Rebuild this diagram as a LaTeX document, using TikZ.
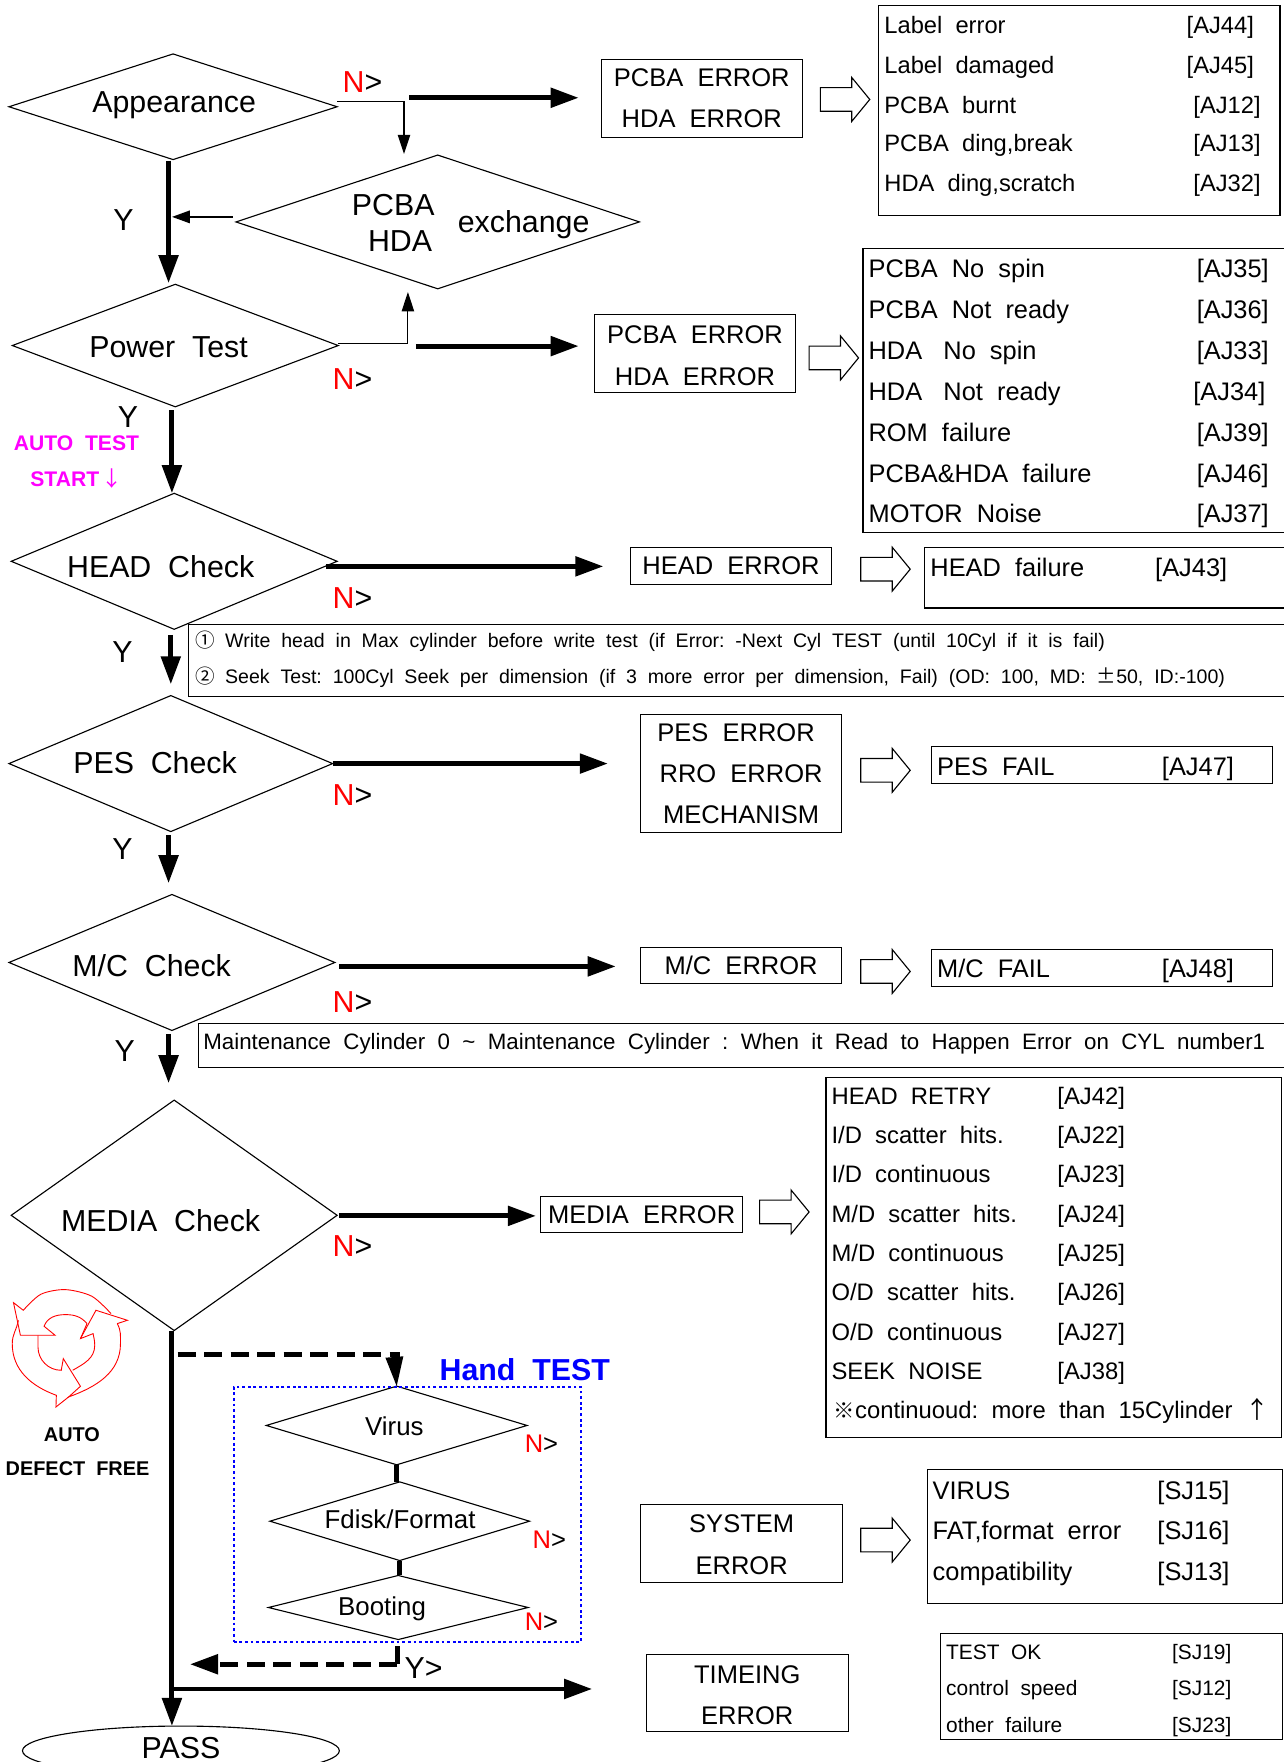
\documentclass[tikz,border=0pt]{standalone}
\usepackage{fontspec}
\setmainfont{Liberation Sans}
\newfontfamily\cjk{Noto Sans CJK KR}
\usetikzlibrary{arrows.meta,shapes.geometric}
\definecolor{mag}{RGB}{255,0,255}
\definecolor{pureblue}{RGB}{0,0,255}
\definecolor{purered}{RGB}{255,0,0}
\tikzset{
  fs/.style={font=\fontsize{#1}{#1}\selectfont,text height={0.72*#1pt},text depth=0pt,inner sep=0pt,outer sep=0pt},
  tx/.style={fs=#1,anchor=center},
  lf/.style={fs=#1,anchor=west},
  dia/.style={draw,diamond,inner sep=0pt,outer sep=0pt,line width=1pt},
  bx/.style={draw,rectangle,line width=1pt,inner sep=0pt,outer sep=0pt,align=center,font=\fontsize{22.7}{36.7}\selectfont},
  thick arr/.style={line width=4.4pt,-{Triangle[length=25pt,width=17pt]}},
  mid arr/.style={line width=2pt,-{Triangle[length=16pt,width=11pt]}},
  thin arr/.style={line width=1pt,-{Triangle[length=17pt,width=11pt]}},
  bar/.style={line width=4.4pt},
  dash bar/.style={line width=4.4pt,dash pattern=on 16pt off 7.6pt},
  hollow/.pic={\draw[line width=1pt,line join=miter] (0,-10.5)--(28,-10.5)--(28,-19.5)--(44,0)--(28,19.5)--(28,10.5)--(0,10.5)--cycle;},
}
\newcommand{\dianode}[6]{\node[dia,minimum width=#4pt,minimum height=#5pt] (#1) at (#2,#3) {};}
\newcommand{\boxnode}[6]{\node[bx,minimum width={(#4-#2)*1pt},minimum height={(#5-#3)*1pt}] (#1) at ({(#2+#4)/2},{(#3+#5)/2}) {#6};}
\newcommand{\lrow}[7]{\node[lf=#7] (#1a) at (#2,#3) {#4}; \node[lf=#7] (#1b) at (#5,#3) {#6};}
\newcommand{\nlab}[4]{\node[lf=#4] (#1) at (#2,#3) {\textcolor{purered}{N}{\fontsize{#4}{#4}\selectfont >}};}
\begin{document}
\begin{tikzpicture}[x=1pt,y=-1pt]
\useasboundingbox (0,0) rectangle (1142,1568);
% diamonds
\dianode{app}{154}{95}{292}{94}{}
\dianode{pcba}{389.5}{197.5}{359}{119}{}
\dianode{pwr}{156}{307.5}{290}{109}{}
\dianode{headc}{155}{499.5}{290}{121}{}
\dianode{pesc}{152}{679.5}{288}{121}{}
\dianode{mcc}{153}{856.5}{290}{121}{}
\dianode{media}{155}{1081.5}{290}{205}{}
\dianode{virus}{353}{1268.5}{232}{70}{}
\dianode{fdisk}{355.7}{1353.7}{231}{70}{}
\dianode{boot}{354.4}{1430.5}{231}{57}{}
\node[draw,ellipse,line width=1pt,minimum width=282pt,minimum height=44pt,inner sep=0pt,outer sep=0pt] (pass) at (161,1558) {};
% diamond labels
\node[tx=27] (tapp) at (155,90) {Appearance};
\node[tx=27] (tpcba) at (350,182) {PCBA};
\node[tx=27] (thda) at (356,214) {HDA};
\node[tx=27] (texch) at (466,197) {exchange};
\node[tx=27] (tpwr) at (150,308) {Power~~Test};
\node[tx=27] (thead) at (143,504) {HEAD~~Check};
\node[tx=27] (tpes) at (138,679) {PES~~Check};
\node[tx=27] (tmc) at (135,859) {M/C~~Check};
\node[tx=27] (tmedia) at (143,1086) {MEDIA~~Check};
\node[tx=23] (tvirus) at (351,1269) {Virus};
\node[tx=23] (tfdisk) at (356,1352) {Fdisk/Format};
\node[tx=23] (tboot) at (340,1429) {Booting};
\node[tx=27] (tpass) at (161,1555) {PASS};
% error boxes
\boxnode{e1}{535}{53}{714}{122}{PCBA~~ERROR\\HDA~~ERROR}
\boxnode{e2}{529}{280}{708}{349}{\rule{0pt}{20pt}PCBA~~ERROR\\HDA~~ERROR}
\boxnode{e3}{561}{487}{740}{520}{HEAD~~ERROR}
\boxnode{e4}{570}{636}{749}{741}{PES~~ERROR\hspace*{9pt}\\RRO~~ERROR\\MECHANISM}
\boxnode{e5}{570}{843}{749}{875}{M/C~~ERROR}
\boxnode{e6}{481}{1065}{661}{1097}{MEDIA~~ERROR}
\boxnode{e7}{570}{1339}{750}{1408}{\rule{0pt}{18pt}SYSTEM\\ERROR}
\boxnode{e8}{575}{1472}{755}{1541}{\rule{0pt}{20pt}TIMEING\\ERROR}
% list boxes
\boxnode{l1}{782}{5}{1139}{192}{}
\boxnode{l2}{768}{221}{1150}{474}{}
\boxnode{l3}{823}{487}{1150}{541}{}
\boxnode{n1}{168}{556}{1150}{620}{}
\boxnode{l4}{829}{664}{1132}{697}{}
\boxnode{l5}{829}{845}{1132}{878}{}
\boxnode{n2}{177}{911}{1150}{950}{}
\boxnode{l6}{735}{959}{1140}{1279}{}
\boxnode{l7}{825}{1308}{1141.5}{1427}{}
\boxnode{l8}{837}{1454}{1141.5}{1548}{}
\node[draw=pureblue,line width=2pt,dash pattern=on 2.5pt off 2.5pt,minimum width=309pt,minimum height=227pt,inner sep=0pt,outer sep=0pt] (hand) at (362.5,1347.5) {};
% list rows
\lrow{ra}{787}{22}{Label~~error}{1056}{[AJ44]}{21.1}
\lrow{rb}{787}{58}{Label~~damaged}{1056}{[AJ45]}{21.1}
\lrow{rc}{787}{93}{PCBA~~burnt}{1062}{[AJ12]}{21.1}
\lrow{rd}{787}{127}{PCBA~~ding,break}{1062}{[AJ13]}{21.1}
\lrow{re}{787}{163}{HDA~~ding,scratch}{1062}{[AJ32]}{21.1}
\lrow{sa}{773}{239}{PCBA~~No~~spin}{1065}{[AJ35]}{22.6}
\lrow{sb}{773}{275}{PCBA~~Not~~ready}{1065}{[AJ36]}{22.6}
\lrow{sc}{773}{312}{HDA~~~No~~spin}{1065}{[AJ33]}{22.6}
\lrow{sd}{773}{348}{HDA~~~Not~~ready}{1062}{[AJ34]}{22.6}
\lrow{se}{773}{385}{ROM~~failure}{1065}{[AJ39]}{22.6}
\lrow{sf}{773}{421}{PCBA\&HDA~~failure}{1065}{[AJ46]}{22.6}
\lrow{sg}{773}{457}{MOTOR~~Noise}{1065}{[AJ37]}{22.6}
\lrow{ta}{828}{505}{HEAD~~failure}{1028}{[AJ43]}{22.6}
\lrow{tb}{834}{682}{PES~~FAIL}{1034}{[AJ47]}{22.6}
\lrow{tc}{834}{862}{M/C~~FAIL}{1034}{[AJ48]}{22.6}
\lrow{ua}{740}{975}{HEAD~~RETRY}{941}{[AJ42]}{21.2}
\lrow{ub}{740}{1010}{I/D~~scatter~~hits.}{941}{[AJ22]}{21.2}
\lrow{uc}{740}{1045}{I/D~~continuous}{941}{[AJ23]}{21.2}
\lrow{ud}{740}{1080}{M/D~~scatter~~hits.}{941}{[AJ24]}{21.2}
\lrow{ue}{740}{1115}{M/D~~continuous}{941}{[AJ25]}{21.2}
\lrow{uf}{740}{1150}{O/D~~scatter~~hits.}{941}{[AJ26]}{21.2}
\lrow{ug}{740}{1185}{O/D~~continuous}{941}{[AJ27]}{21.2}
\lrow{uh}{740}{1220}{SEEK~~NOISE}{941}{[AJ38]}{21.2}
\node[lf=21.2] (ui) at (742,1255) {{\cjk\fontsize{19}{19}\selectfont ※}continuoud:~~more~~than~~15Cylinder~~{\cjk ↑}};
\lrow{va}{830}{1326}{VIRUS}{1030}{[SJ15]}{22.6}
\lrow{vb}{830}{1362}{FAT,format~~error}{1030}{[SJ16]}{22.6}
\lrow{vc}{830}{1398}{compatibility}{1030}{[SJ13]}{22.6}
\lrow{wa}{842}{1470}{TEST~~OK}{1043}{[SJ19]}{18.6}
\lrow{wb}{842}{1502}{control~~speed}{1043}{[SJ12]}{18.6}
\lrow{wc}{842}{1535}{other~~failure}{1043}{[SJ23]}{18.6}
% notes
\node[lf=17.4] (n1a) at (174,570) {{\cjk ①}\hspace{9pt}Write~~head~~in~~Max~~cylinder~~before~~write~~test~~(if~~Error:~~-Next~~Cyl~~TEST~~(until~~10Cyl~~if~~it~~is~~fail)};
\node[lf=17.4] (n1b) at (174,602) {{\cjk ②}\hspace{9pt}Seek~~Test:~~100Cyl~~Seek~~per~~dimension~~(if~~3~~more~~error~~per~~dimension,~~Fail)~~(OD:~~100,~~MD:~~{\cjk ±}50,~~ID:-100)};
\node[lf=19.85] (n2a) at (181,927) {Maintenance~~Cylinder~~0~~\textasciitilde~~Maintenance~~Cylinder~~:~~When~~it~~Read~~to~~Happen~~Error~~on~~CYL~~number1};
% side labels
\nlab{na}{305}{73}{27}
\nlab{nb}{296}{337}{27}
\nlab{nc}{296}{532}{27}
\nlab{nd}{296}{707}{27}
\nlab{ne}{296}{891}{27}
\nlab{nf}{296}{1108}{27}
\nlab{ng}{467}{1284}{22.7}
\nlab{nh}{474}{1370}{22.7}
\nlab{ni}{467}{1443}{22.7}
\node[tx=27] (ya) at (110,195) {Y};
\node[tx=27] (yb) at (114,371) {Y};
\node[tx=27] (yc) at (109,580) {Y};
\node[tx=27] (yd) at (109,755) {Y};
\node[tx=27] (ye) at (111,935) {Y};
\node[lf=27] (yf) at (360,1484) {Y>};
\node[tx=18.8,mag] (at1) at (68,394) {\bfseries AUTO~~TEST};
\node[lf=18.8,mag] (at2) at (27,426) {\bfseries START\hspace{2pt}{\cjk\mdseries ↓}};
\node[tx=17.7] (df1) at (64,1276) {\bfseries AUTO};
\node[tx=17.7] (df2) at (69,1307) {\bfseries DEFECT~~FREE};
\node[tx=27,pureblue] (ht) at (467,1219) {\bfseries Hand~~TEST};
% named free ends
\coordinate (c1) at (364,87);
\coordinate (c2) at (370,308);
\coordinate (c3) at (158,1205);
\coordinate (c4) at (356,1205);
\coordinate (c5) at (351,1208);
\coordinate (c6) at (353.5,1465);
\coordinate (c7) at (353.5,1481);
\coordinate (c8) at (153,1503);
% main flow
\draw[thick arr] (150,143) -- (150,252);
\draw[thick arr,shorten <=3pt] (pwr.south -| 153,0) -- (153,439);
\draw[thick arr] (152,565) -- (152,609);
\draw[thick arr] (150,743) -- (150,786);
\draw[thick arr] (150,920) -- (150,964);
\draw[thick arr] (media.south -| 153,0) -- (pass.north -| 153,0);
% exchange branches
\draw[mid arr] (207,193) -- (153,193);
\draw[thin arr] (app.east |- 0,90.5) -- (359.5,90.5) -- (359.5,137);
\draw[thin arr] (pwr.east |- 0,306) -- (363,306) -- (363,260);
% error arrows
\draw[thick arr,shorten >=20pt] (c1) -- (e1.west |- c1);
\draw[thick arr,shorten >=14pt] (c2) -- (e2.west |- c2);
\draw[thick arr,shorten >=24pt] (290,504) -- (e3.west |- 0,504);
\draw[thick arr,shorten >=29pt] (pesc.east) -- (e4.west |- pesc.east);
\draw[thick arr,shorten >=22pt] (302,860) -- (e5.west |- 0,860);
\draw[thick arr,shorten >=4pt] (302,1082) -- (e6.west |- 0,1082);
% hand test
\draw[dash bar] (c3) -- (c4);
\path[line width=0pt,-{Triangle[length=26pt,width=16pt]}] (c5) edge[draw=black] (virus.north);
\draw[bar] (virus.south) -- (fdisk.north -| virus.south);
\draw[bar] (fdisk.south) -- (boot.north -| fdisk.south);
\draw[bar] (c6) -- (c7);
\draw[dash bar,-{Triangle[length=25pt,width=17pt]}] (c7) -- (169,1481);
\draw[thick arr,shorten >=48pt] (c8) -- (e8.west |- c8);
% hollow arrows
\pic at (730,88.5) {hollow};
\pic at (720,318.5) {hollow};
\pic at (766,506.5) {hollow};
\pic at (766,685.5) {hollow};
\pic at (766,864.5) {hollow};
\pic at (676,1078.5) {hollow};
\pic at (766,1370.5) {hollow};
% recycling mark
\begin{scope}[shift={(0,1130.4)},x=0.3634pt,y=-0.2967pt,purered,line width=0.8pt,line join=miter]
\draw plot[smooth] coordinates {(272,130) (225,78) (160,58) (100,72) (57,120)} -- (33,97) -- (50,195) -- (135,195) -- (108,168) to[out=70,in=180] (160,133) to[out=0,in=130] (213,160);
\draw (287,160) to[out=-60,in=90] (295,220) to[out=-90,in=20] (168,380) -- (197,348) -- (155,265) -- (150,300) to[out=180,in=-90] (93,230) -- (93,195);
\draw (213,160) -- (197,205) -- (228,190) to[out=-80,in=90] (232,225) to[out=-90,in=30] (178,300);
\draw (197,205) -- (235,120) -- (312,150) -- (287,160);
\draw (45,150) to[out=-100,in=90] (30,220) to[out=-90,in=160] (138,375) -- (137,410) -- (168,380);
\end{scope}
\end{tikzpicture}
\end{document}
